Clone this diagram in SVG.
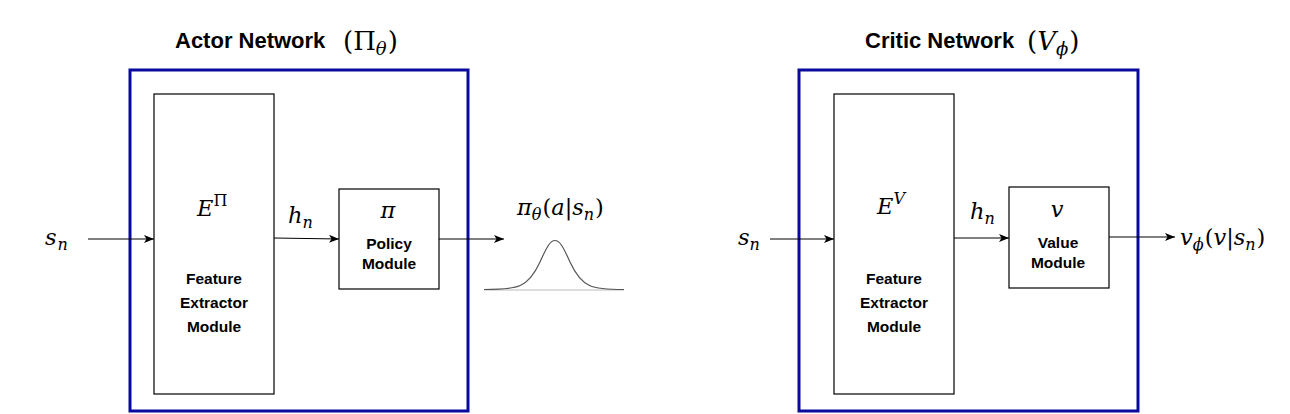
<svg xmlns="http://www.w3.org/2000/svg" width="1290" height="414" viewBox="0 0 1290 414">
<defs>
<marker id="ah" viewBox="0 0 10 10" refX="10" refY="5" markerWidth="10" markerHeight="10" markerUnits="userSpaceOnUse" orient="auto">
<path d="M0,1 L10,5 L0,9 L2.5,5 Z" fill="#000"/>
</marker>
</defs>
<style>
.outer{fill:none;stroke:#0a0a9e;stroke-width:3}
.box{fill:#fff;stroke:#000;stroke-width:1.2}
.title{font-family:"Liberation Sans",Arial,sans-serif;font-weight:bold;font-size:22px;fill:#000}
.lbl{font-family:"Liberation Sans",Arial,sans-serif;font-weight:bold;font-size:15.5px;fill:#000;text-anchor:middle}
.m{font-family:"DejaVu Serif","Liberation Serif",serif;font-style:italic;font-size:22.5px;fill:#000}
.mu{font-family:"DejaVu Serif","Liberation Serif",serif;font-style:normal;font-size:22.5px;fill:#000}
.sub{font-size:16px}
.big{font-size:26px}
.bsub{font-size:18px}
.conn{stroke:#000;stroke-width:1;fill:none;marker-end:url(#ah)}
</style>
<g id="actor-title">
<text x="175" y="48" class="title">Actor Network</text>
<text x="343" y="50" class="mu big">(Π<tspan class="m bsub" dy="5">θ</tspan><tspan class="mu big" dy="-5" dx="1">)</tspan></text>
</g>
<g id="critic-title">
<text x="865" y="48" class="title">Critic Network</text>
<text x="1027" y="50" class="mu big">(<tspan class="m big">V</tspan><tspan class="m bsub" dy="5">ϕ</tspan><tspan class="mu big" dy="-5" dx="1">)</tspan></text>
</g>
<g id="actor-network">
<rect x="130" y="70" width="338" height="341" class="outer"/>
</g>
<g id="critic-network">
<rect x="799" y="70" width="339" height="341" class="outer"/>
</g>
<g id="actor-feature-extractor">
<rect x="154" y="94" width="120" height="300" class="box"/>
<text x="197" y="216" class="m">E<tspan class="mu sub" dy="-10">Π</tspan></text>
<text x="214" y="284" class="lbl">Feature</text>
<text x="214" y="308" class="lbl">Extractor</text>
<text x="214" y="332" class="lbl">Module</text>
</g>
<g id="policy-module">
<rect x="339" y="189" width="100" height="100" class="box"/>
<text x="388" y="218" class="m" text-anchor="middle">π</text>
<text x="389" y="249" class="lbl">Policy</text>
<text x="389" y="269" class="lbl">Module</text>
</g>
<g id="critic-feature-extractor">
<rect x="834" y="94" width="120" height="300" class="box"/>
<text x="877" y="214" class="m">E<tspan class="m sub" dy="-10">V</tspan></text>
<text x="894" y="284" class="lbl">Feature</text>
<text x="894" y="308" class="lbl">Extractor</text>
<text x="894" y="332" class="lbl">Module</text>
</g>
<g id="value-module">
<rect x="1009" y="187" width="100" height="101" class="box"/>
<text x="1057" y="217" class="m" text-anchor="middle">v</text>
<text x="1058" y="248" class="lbl">Value</text>
<text x="1058" y="268" class="lbl">Module</text>
</g>
<g id="actor-input">
<text x="45" y="245" class="m">s<tspan class="sub" dy="5" dx="1">n</tspan></text>
</g>
<g id="actor-hidden">
<text x="288" y="223" class="m">h<tspan class="sub" dy="5">n</tspan></text>
</g>
<g id="actor-output">
<text x="517" y="215" class="m">π<tspan class="sub" dy="5">θ</tspan><tspan class="mu" dy="-5" dx="1">(</tspan>a<tspan class="mu">|</tspan>s<tspan class="sub" dy="5">n</tspan><tspan class="mu" dy="-5" dx="1">)</tspan></text>
<line x1="484" y1="290" x2="624" y2="290" stroke="#bbb" stroke-width="1.2"/>
<path d="M484,289.5 C518,289.5 528,288 540,262 C548,244 551,240.5 555,240.5 C559,240.5 562,244 570,262 C582,288 592,289.5 624,289.5" fill="none" stroke="#555" stroke-width="1.2"/>
</g>
<g id="critic-input">
<text x="738" y="245" class="m">s<tspan class="sub" dy="5">n</tspan></text>
</g>
<g id="critic-hidden">
<text x="970" y="219" class="m">h<tspan class="sub" dy="5">n</tspan></text>
</g>
<g id="critic-output">
<text x="1180" y="245" class="m">v<tspan class="sub" dy="5">ϕ</tspan><tspan class="mu" dy="-5" dx="1">(</tspan>v<tspan class="mu">|</tspan>s<tspan class="sub" dy="5">n</tspan><tspan class="mu" dy="-5" dx="1">)</tspan></text>
</g>
<g id="connectors">
<line x1="88" y1="239" x2="154" y2="239" class="conn"/>
<line x1="274" y1="238" x2="339" y2="239" class="conn"/>
<line x1="439" y1="239" x2="504" y2="239" class="conn"/>
<line x1="770" y1="239" x2="834" y2="239" class="conn"/>
<line x1="954" y1="238" x2="1009" y2="238" class="conn"/>
<line x1="1109" y1="237" x2="1175" y2="237" class="conn"/>
</g>
</svg>
